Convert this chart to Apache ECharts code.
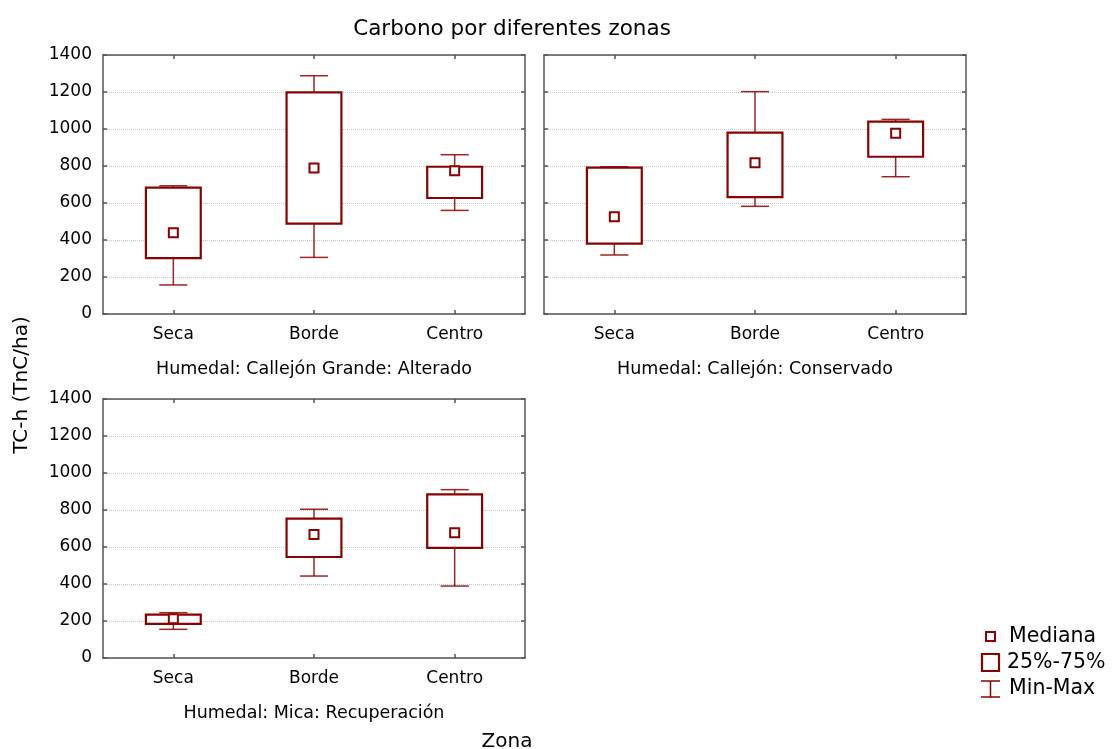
<!DOCTYPE html>
<html>
<head>
<meta charset="utf-8">
<script src="https://cdn.jsdelivr.net/npm/echarts@6/dist/echarts.min.js"></script>
<style>
  html, body { margin: 0; padding: 0; background: #fff; }
  #main { width: 1114px; height: 749px; }
</style>
</head>
<body>
<div id="main"></div>
<script>
var zonas = ['Seca', 'Borde', 'Centro'];
var yTicks = [0, 1400, 200]; // min, max, intervalo

// Humedal: Callejón Grande: Alterado
var alteradoMin = [157, 306, 560];
var alteradoQ1 = [302, 488, 627];
var alteradoMed = [439, 789, 775];
var alteradoQ3 = [683, 1198, 796];
var alteradoMax = [693, 1288, 861];

// Humedal: Callejón: Conservado
var conservadoMin = [319, 582, 742];
var conservadoQ1 = [380, 632, 850];
var conservadoMed = [526, 818, 977];
var conservadoQ3 = [791, 980, 1040];
var conservadoMax = [796, 1202, 1052];

// Humedal: Mica: Recuperación
var micaMin = [155, 443, 389];
var micaQ1 = [184, 546, 595];
var micaMed = [212, 667, 677];
var micaQ3 = [234, 753, 885];
var micaMax = [245, 804, 910];

var paneles = [
    {nombre: 'Humedal: Callejón Grande: Alterado', min: alteradoMin, q1: alteradoQ1, med: alteradoMed, q3: alteradoQ3, max: alteradoMax, left: 103, top: 55, labels: true},
    {nombre: 'Humedal: Callejón: Conservado', min: conservadoMin, q1: conservadoQ1, med: conservadoMed, q3: conservadoQ3, max: conservadoMax, left: 544, top: 55, labels: false},
    {nombre: 'Humedal: Mica: Recuperación', min: micaMin, q1: micaQ1, med: micaMed, q3: micaQ3, max: micaMax, left: 103, top: 399, labels: true}
];

var ROJO = '#8b0000';
var EJE = '#555555';
var NEGRO = '#000';
var FUENTE = '"DejaVu Sans", "Liberation Sans", sans-serif';

function renderCaja(params, api) {
    var cat = api.value(0);
    var vMin = api.value(1), vQ1 = api.value(2), vMed = api.value(3), vQ3 = api.value(4), vMax = api.value(5);
    var banda = api.size([1, 0])[0];
    var boxW = banda * 0.39;
    var capW = banda * 0.2;
    var pMin = api.coord([cat, vMin]);
    var pQ1 = api.coord([cat, vQ1]);
    var pMed = api.coord([cat, vMed]);
    var pQ3 = api.coord([cat, vQ3]);
    var pMax = api.coord([cat, vMax]);
    var x = pMed[0];
    var bigote = {stroke: ROJO, lineWidth: 1.5, opacity: 0.85};
    return {
        type: 'group',
        children: [
            {type: 'line', shape: {x1: x, y1: pQ3[1], x2: x, y2: pMax[1]}, style: bigote},
            {type: 'line', shape: {x1: x - capW / 2, y1: pMax[1], x2: x + capW / 2, y2: pMax[1]}, style: bigote},
            {type: 'line', shape: {x1: x, y1: pQ1[1], x2: x, y2: pMin[1]}, style: bigote},
            {type: 'line', shape: {x1: x - capW / 2, y1: pMin[1], x2: x + capW / 2, y2: pMin[1]}, style: bigote},
            {type: 'rect', shape: {x: x - boxW / 2, y: pQ3[1], width: boxW, height: pQ1[1] - pQ3[1]},
                style: {fill: '#fff', stroke: ROJO, lineWidth: 2.2}},
            {type: 'rect', shape: {x: x - 4.5, y: pMed[1] - 4.5, width: 9, height: 9},
                style: {fill: '#fff', stroke: ROJO, lineWidth: 2}}
        ]
    };
}

function $ext(a, b) {
    var r = {};
    for (var k in a) r[k] = a[k];
    for (var j in b) r[j] = b[j];
    return r;
}

var grids = [], xAxes = [], yAxes = [], series = [];
paneles.forEach(function (p, i) {
    grids.push({left: p.left, top: p.top, width: 422, height: 259, containLabel: false});
    var tick = {show: true, inside: true, length: 4, lineStyle: {color: EJE, width: 1.5}};
    var linea = {show: true, onZero: false, lineStyle: {color: EJE, width: 1.5}};
    xAxes.push({
        type: 'category', gridIndex: i, data: zonas, position: 'bottom',
        axisLine: linea, axisTick: $ext(tick, {alignWithLabel: true}),
        axisLabel: {color: NEGRO, fontSize: 17, fontFamily: FUENTE, margin: 12},
        name: p.nombre, nameLocation: 'middle', nameGap: 46,
        nameTextStyle: {color: NEGRO, fontSize: 17.5, fontFamily: FUENTE}
    });
    xAxes.push({
        type: 'category', gridIndex: i, data: zonas, position: 'top',
        axisLine: linea, axisTick: $ext(tick, {alignWithLabel: true}), axisLabel: {show: false}
    });
    yAxes.push({
        type: 'value', gridIndex: i, min: yTicks[0], max: yTicks[1], interval: yTicks[2], position: 'left',
        axisLine: linea, axisTick: tick,
        axisLabel: {show: p.labels, color: NEGRO, fontSize: 17, fontFamily: FUENTE, margin: 11,
            formatter: function (v) { return String(v); }},
        splitLine: {show: true, lineStyle: {color: '#c8c8c8', type: 'dotted', width: 1}}
    });
    yAxes.push({
        type: 'value', gridIndex: i, min: yTicks[0], max: yTicks[1], interval: yTicks[2], position: 'right',
        axisLine: linea, axisTick: tick, axisLabel: {show: false}, splitLine: {show: false}
    });
    var datos = zonas.map(function (z, k) {
        return [k, p.min[k], p.q1[k], p.med[k], p.q3[k], p.max[k]];
    });
    series.push({
        type: 'custom', name: p.nombre, xAxisIndex: i * 2, yAxisIndex: i * 2,
        renderItem: renderCaja, data: datos, z: 5
    });
});

var texto = {fill: NEGRO, fontFamily: FUENTE};
var option = {
    backgroundColor: '#fff',
    animation: false,
    title: {
        text: 'Carbono por diferentes zonas', left: 507, top: 13, textAlign: 'center',
        textStyle: {color: NEGRO, fontSize: 21.5, fontWeight: 'normal', fontFamily: FUENTE}
    },
    grid: grids,
    xAxis: xAxes,
    yAxis: yAxes,
    series: series,
    graphic: [
        {type: 'text', x: 22, y: 385, rotation: Math.PI / 2, style: $ext(texto, {text: 'TC-h (TnC/ha)', fontSize: 20, align: 'center', verticalAlign: 'middle'})},
        {type: 'text', x: 507, y: 742, style: $ext(texto, {text: 'Zona', fontSize: 20, align: 'center', verticalAlign: 'middle'})},
        // leyenda
        {type: 'rect', shape: {x: 986, y: 632, width: 9, height: 9}, style: {fill: '#fff', stroke: ROJO, lineWidth: 2}},
        {type: 'text', x: 1009, y: 637, style: $ext(texto, {text: 'Mediana', fontSize: 20.5, verticalAlign: 'middle'})},
        {type: 'rect', shape: {x: 982, y: 654, width: 17, height: 17}, style: {fill: '#fff', stroke: ROJO, lineWidth: 2.2}},
        {type: 'text', x: 1007, y: 663, style: $ext(texto, {text: '25%-75%', fontSize: 20.5, verticalAlign: 'middle'})},
        {type: 'line', shape: {x1: 981, y1: 681, x2: 1000, y2: 681}, style: {stroke: ROJO, lineWidth: 1.5}},
        {type: 'line', shape: {x1: 990.5, y1: 681, x2: 990.5, y2: 697}, style: {stroke: ROJO, lineWidth: 1.5}},
        {type: 'line', shape: {x1: 981, y1: 697, x2: 1000, y2: 697}, style: {stroke: ROJO, lineWidth: 1.5}},
        {type: 'text', x: 1009, y: 689, style: $ext(texto, {text: 'Min-Max', fontSize: 20.5, verticalAlign: 'middle'})}
    ]
};

var myChart = echarts.init(document.getElementById('main'));
myChart.setOption(option);
</script>
</body>
</html>
